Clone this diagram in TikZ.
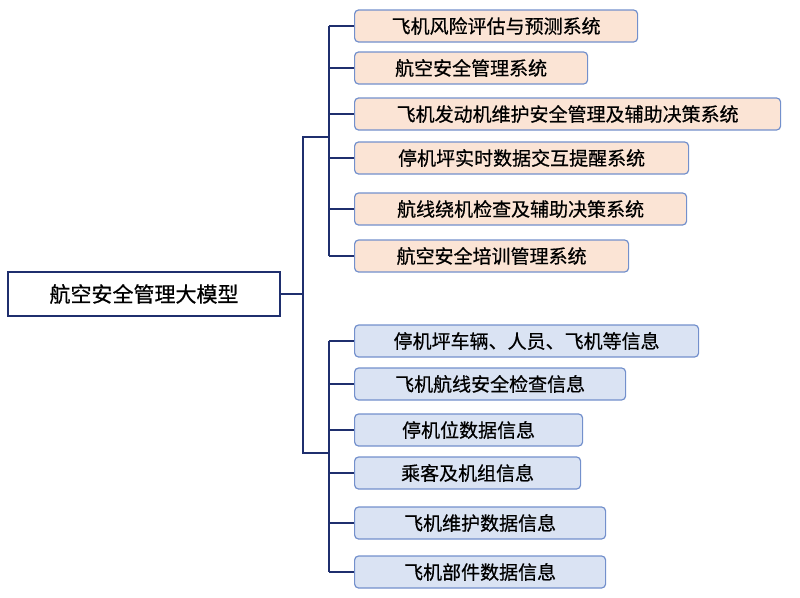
\documentclass[tikz,border=0pt]{standalone}
\usepackage{fontspec}
\usetikzlibrary{calc}
\newfontfamily\cjk[FakeBold=0.6]{Noto Sans CJK SC}
\definecolor{linknavy}{HTML}{1F2F6E}
\definecolor{boxedge}{HTML}{7390CC}
\definecolor{sysfill}{HTML}{FBE4D5}
\definecolor{inffill}{HTML}{DAE3F3}

\begin{document}
\begin{tikzpicture}[x=1pt,y=-1pt,
    link/.style={draw=linknavy,line width=1.6pt},
    leaf/.style={draw=boxedge,line width=1.2pt,rounded corners=4pt,anchor=west,
        minimum height=32pt,inner xsep=0pt,font=\cjk\fontsize{19}{21}\selectfont},
    sysbox/.style={leaf,fill=sysfill},
    infbox/.style={leaf,fill=inffill}]
    \useasboundingbox (0,0) rectangle (800,597); % keeps the page size

    \node[draw=linknavy,line width=1.8pt,fill=white,minimum width=272pt,minimum height=44pt,
        font=\cjk\fontsize{21}{23}\selectfont] (root) at (144,294) {航空安全管理大模型};

    \node[sysbox,minimum width=283pt] (s1) at (354,26)  {飞机风险评估与预测系统};
    \node[sysbox,minimum width=233pt] (s2) at (354,68)  {航空安全管理系统};
    \node[sysbox,minimum width=426pt] (s3) at (354,114) {飞机发动机维护安全管理及辅助决策系统};
    \node[sysbox,minimum width=334pt] (s4) at (354,158) {停机坪实时数据交互提醒系统};
    \node[sysbox,minimum width=332pt] (s5) at (354,209) {航线绕机检查及辅助决策系统};
    \node[sysbox,minimum width=274pt] (s6) at (354,256) {航空安全培训管理系统};

    \node[infbox,minimum width=344pt] (i1) at (354,341) {停机坪车辆、人员、飞机等信息};
    \node[infbox,minimum width=271pt] (i2) at (354,384) {飞机航线安全检查信息};
    \node[infbox,minimum width=228pt] (i3) at (354,430) {停机位数据信息};
    \node[infbox,minimum width=226pt] (i4) at (354,473) {乘客及机组信息};
    \node[infbox,minimum width=251pt] (i5) at (354,523) {飞机维护数据信息};
    \node[infbox,minimum width=251pt] (i6) at (354,572) {飞机部件数据信息};

    \coordinate (hub) at (303,294);
    \coordinate (sysbus) at (329,137);
    \coordinate (infbus) at (329,453);

    \draw[link] (root.east) -- (hub);
    \draw[link] (sysbus) -- (sysbus -| hub) |- (infbus);
    \draw[link] (s1.west -| sysbus) -- (s6.west -| sysbus);
    \draw[link] (i1.west -| infbus) -- (i6.west -| infbus);
    \foreach \k in {1,...,6}{
        \draw[link] (s\k.west -| sysbus) -- (s\k.west);
        \draw[link] (i\k.west -| infbus) -- (i\k.west);
    }
\end{tikzpicture}
\end{document}
